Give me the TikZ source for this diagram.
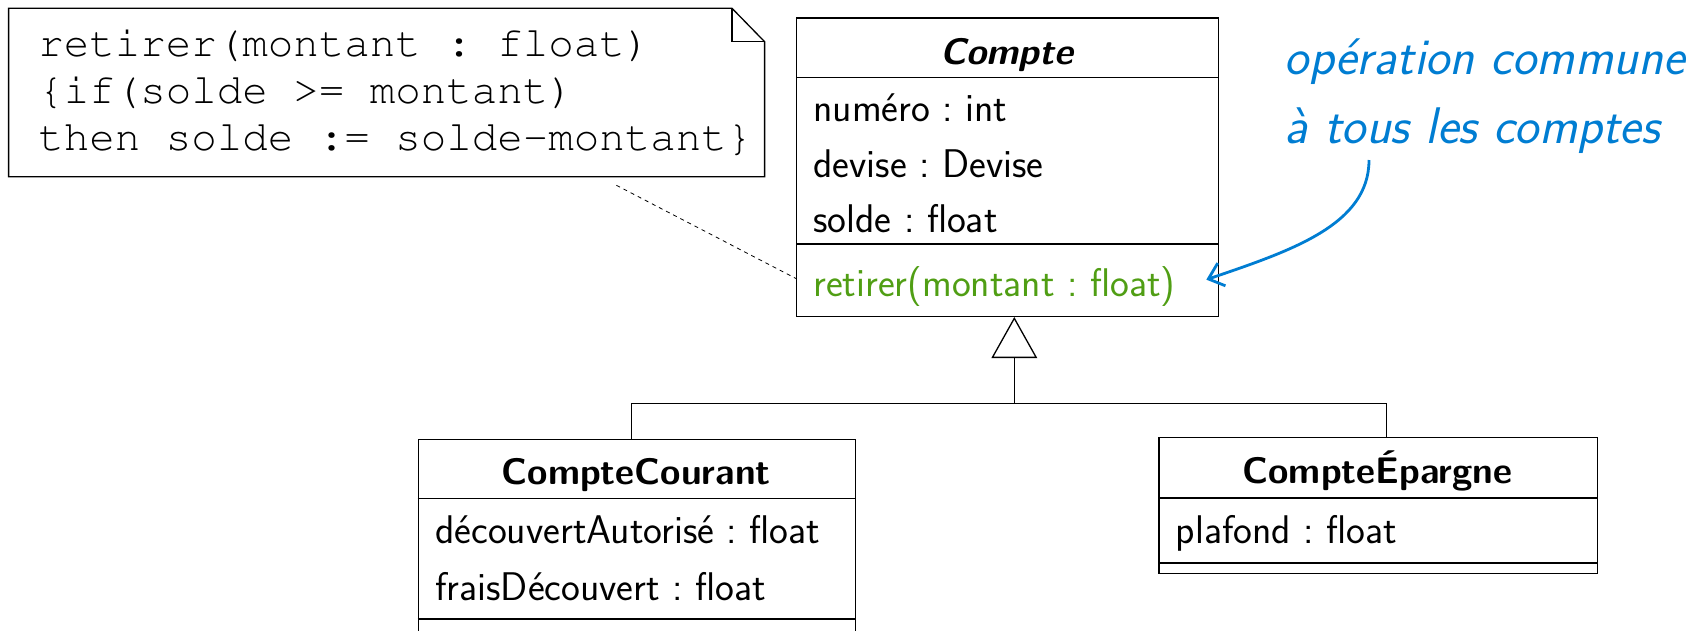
\documentclass[tikz,border=0pt]{standalone}
\usepackage{tikz}
\usetikzlibrary{arrows.meta}
\usepackage{xcolor}
\definecolor{opgreen}{RGB}{80,158,20}
\definecolor{remarkblue}{RGB}{0,125,210}
\newcommand{\titlefont}{\fontsize{37}{44}\selectfont\sffamily\bfseries}
\newcommand{\umlfont}{\fontsize{40}{48}\selectfont\sffamily}
\newcommand{\codefont}{\fontencoding{T1}\fontfamily{pcr}\fontsize{42.5}{46}\selectfont}
\newcommand{\remarkfont}{\fontsize{51.5}{60}\selectfont\sffamily\itshape}
\frenchspacing

\begin{document}
\begin{tikzpicture}[x=1pt, y=-1pt, line width=1.3pt,
    classbox/.style={draw, rectangle, anchor=north west, inner sep=0pt},
    classname/.style={anchor=base, inner sep=0pt, font=\titlefont},
    member/.style={anchor=base west, inner sep=0pt, font=\umlfont},
    code/.style={anchor=base west, inner sep=0pt, font=\codefont},
    remark/.style={anchor=base west, inner sep=0pt, font=\remarkfont, text=remarkblue}]
    \useasboundingbox (0,0) rectangle (1688,630);
    % Note
    \node [anchor=north west, inner sep=0pt, minimum width=754.7pt, minimum height=167.2pt] (note) at (8.6,8.3) {};
    \draw (note.north west) -- ([xshift=-32.6pt]note.north east) -- ([yshift=-33.4pt]note.north east) -- (note.south east) -- (note.south west) -- cycle;
    \draw ([xshift=-32.6pt]note.north east) -- ([shift={(-32.6pt,-33.4pt)}]note.north east) -- ([yshift=-33.4pt]note.north east);
    \node [code] (code1) at (37.7,56.5) {retirer(montant : float)};
    \node [code] (code2) at (37.7,103.5) {\{if(solde >= montant)};
    \node [code] (code3) at (37.7,150) {then solde := solde-montant\}};
    % Compte
    \node [classbox, minimum width=422pt, minimum height=298.4pt] (compte) at (796,17.3) {};
    \node [classname] (compteName) at (1007,64.6) {\itshape Compte};
    \draw ([yshift=-60pt]compte.north west) -- ([yshift=-60pt]compte.north east);
    \node [member] (numero) at (812.7,121.6) {numéro : int};
    \node [member] (devise) at (812.7,177.2) {devise : Devise};
    \node [member] (solde) at (812.7,232.2) {solde : float};
    \draw ([yshift=-226.7pt]compte.north west) -- ([yshift=-226.7pt]compte.north east);
    \node [member, text=opgreen] (compteOp) at (812.7,296) {retirer(montant : float)};
    % CompteCourant
    \node [classbox, minimum width=437pt, minimum height=200pt] (courant) at (417.7,438.5) {};
    \node [classname] (courantName) at (636.2,484.4) {CompteCourant};
    \draw ([yshift=-60pt]courant.north west) -- ([yshift=-60pt]courant.north east);
    \node [member] (decouvert) at (434.7,543.6) {découvertAutorisé : float};
    \node [member] (frais) at (434.7,600.2) {fraisDécouvert : float};
    \draw ([yshift=-180.5pt]courant.north west) -- ([yshift=-180.5pt]courant.north east);
    % CompteEpargne
    \node [classbox, minimum width=438.2pt, minimum height=135.7pt] (epargne) at (1158.3,437) {};
    \node [classname] (epargneName) at (1377.4,483.5) {CompteÉpargne};
    \draw ([yshift=-61pt]epargne.north west) -- ([yshift=-61pt]epargne.north east);
    \node [member] (plafond) at (1175.3,543) {plafond : float};
    \draw ([yshift=-126pt]epargne.north west) -- ([yshift=-126pt]epargne.north east);
    % Remark
    \node [remark] (remark1) at (1284.3,74.5) {opération commune};
    \node [remark] (remark2) at (1284.3,143) {à tous les comptes};
    % Lines
    \coordinate (fork) at (1014.3,403.3);
    \draw [-{Triangle[open, length=41pt, width=45.6pt]}] (fork) -- (fork |- compte.south);
    \draw ([xshift=-5.4pt]courant.north) |- (fork) -| ([xshift=8.1pt]epargne.north);
    \draw [line width=0.8pt, dash pattern=on 4pt off 4pt] ([shift={(229.8pt,-8.5pt)}]note.south) -- ([yshift=-111.4pt]compte.west);
    \draw [remarkblue, line width=2.8pt, -{Straight Barb[length=14pt, width=24pt]}] ([shift={(84.7pt,-17pt)}]remark2.base west) .. controls +(0pt,-65pt) and +(85pt,29pt) .. ([shift={(-13pt,-112.5pt)}]compte.east);
\end{tikzpicture}
\end{document}
